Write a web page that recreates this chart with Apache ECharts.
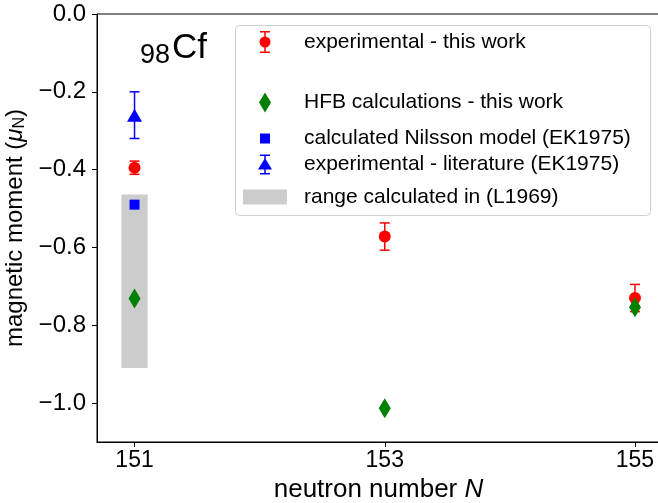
<!DOCTYPE html>
<html>
<head>
<meta charset="utf-8">
<script src="https://cdn.jsdelivr.net/npm/echarts@6/dist/echarts.min.js"></script>
<style>
  html, body { margin: 0; padding: 0; background: #fff; }
  #main { width: 658px; height: 503px; }
</style>
</head>
<body>
<div id="main"></div>
<script>
// data
var nExp = [151, 153, 155];
var muExp = [-0.395, -0.572, -0.730];
var errExp = [0.017, 0.035, 0.035];

var nHfb = [151, 153, 155];
var muHfb = [-0.731, -1.013, -0.754];

var nNilsson = [151];
var muNilsson = [-0.49];

var nLit = [151];
var muLit = [-0.26];
var errLit = [0.06];

var nRange = [151];
var rangeTop = [-0.464];
var rangeBottom = [-0.91];

var xTicks = [151, 153, 155];
var yTicks = [0, -0.2, -0.4, -0.6, -0.8, -1.0];

var FONT = '"Liberation Sans", Arial, sans-serif';

function zip(xs, ys) {
    return xs.map(function (x, i) { return [x, ys[i]]; });
}
function zipErr(xs, ys, es) {
    return xs.map(function (x, i) { return [x, ys[i] - es[i], ys[i] + es[i]]; });
}

// error bar: vertical line with caps
function renderErrorBar(capHalf) {
    return function (params, api) {
        var x = api.value(0);
        var lo = api.coord([x, api.value(1)]);
        var hi = api.coord([x, api.value(2)]);
        var style = { stroke: api.visual('color'), lineWidth: 1.5 };
        return {
            type: 'group',
            children: [
                { type: 'line', shape: { x1: lo[0], y1: lo[1], x2: hi[0], y2: hi[1] }, style: style },
                { type: 'line', shape: { x1: lo[0] - capHalf, y1: lo[1], x2: lo[0] + capHalf, y2: lo[1] }, style: style },
                { type: 'line', shape: { x1: hi[0] - capHalf, y1: hi[1], x2: hi[0] + capHalf, y2: hi[1] }, style: style }
            ]
        };
    };
}

function renderRange(params, api) {
    var x = api.value(0);
    var p1 = api.coord([x - 0.105, api.value(1)]);
    var p2 = api.coord([x + 0.105, api.value(2)]);
    return {
        type: 'rect',
        shape: { x: p1[0], y: p1[1], width: p2[0] - p1[0], height: p2[1] - p1[1] },
        style: { fill: '#cccccc' }
    };
}

var NAME_EXP = 'experimental - this work';
var NAME_HFB = 'HFB calculations - this work';
var NAME_NIL = 'calculated Nilsson model (EK1975)';
var NAME_LIT = 'experimental - literature (EK1975)';
var NAME_RANGE = 'range calculated in (L1969)';

var diamond = 'path://M6 0L12 10L6 20L0 10Z';
var iconExp = 'path://M0 0H10V1.5H0Z M0 20.5H10V22H0Z M4.25 0H5.75V22H4.25Z M-0.5 11A5.5 5.5 0 1 1 10.5 11A5.5 5.5 0 1 1 -0.5 11Z';
var iconLit = 'path://M0 0H10V1.5H0Z M0 18.5H10V20H0Z M4.25 0H5.75V20H4.25Z M-2 15L5 3.5L12 15Z';

function legendItem(name, icon, w, h, centerY) {
    return {
        data: [{ name: name, icon: icon }],
        left: 265 - w / 2,
        top: centerY - h / 2,
        padding: 0,
        itemWidth: w,
        itemHeight: h,
        selectedMode: false,
        textStyle: {
            fontFamily: FONT, fontSize: 21, color: '#000',
            lineHeight: h,
            padding: [0, 0, 0, 304 - (265 + w / 2) - 5]
        }
    };
}

var chart = echarts.init(document.getElementById('main'));
chart.setOption({
    animation: false,
    backgroundColor: '#fff',
    grid: {
        left: 97, top: 14, width: 563, height: 428,
        outerBoundsMode: 'none',
        containLabel: false,
        show: true, borderColor: '#000', borderWidth: 1
    },
    legend: [
        legendItem(NAME_EXP, iconExp, 11, 22, 42),
        legendItem(NAME_HFB, diamond, 12, 20, 102),
        legendItem(NAME_NIL, 'path://M0 0H10V10H0Z', 10, 10, 133),
        legendItem(NAME_LIT, iconLit, 14, 20, 164),
        legendItem(NAME_RANGE, 'path://M0 0H44V15H0Z', 44, 15, 194)
    ],
    xAxis: {
        type: 'value',
        min: 150.7,
        max: 155.2,
        splitLine: { show: false },
        axisLine: { show: true, onZero: false, lineStyle: { color: '#000', width: 1 } },
        axisTick: { show: true, customValues: xTicks, length: 5, lineStyle: { color: '#000' } },
        axisLabel: {
            customValues: xTicks, fontFamily: FONT, fontSize: 23, color: '#000', margin: 7
        },
        name: 'neutron number {i|N}',
        nameLocation: 'middle',
        nameGap: 31,
        nameTextStyle: {
            fontFamily: FONT, fontSize: 26, color: '#000',
            rich: { i: { fontFamily: FONT, fontSize: 26, fontStyle: 'italic', color: '#000' } }
        }
    },
    yAxis: {
        type: 'value',
        min: -1.1,
        max: 0,
        splitLine: { show: false },
        axisLine: { show: true, onZero: false, lineStyle: { color: '#000', width: 1 } },
        axisTick: { show: true, customValues: yTicks, length: 5, lineStyle: { color: '#000' } },
        axisLabel: {
            customValues: yTicks, fontFamily: FONT, fontSize: 24, color: '#000', margin: 11,
            formatter: function (v) { return v.toFixed(1).replace('-', '\u2212'); }
        },
        name: 'magnetic moment ({i|\u03bc}{s|N})',
        nameLocation: 'middle',
        nameRotate: 90,
        nameGap: 60,
        nameTextStyle: {
            fontFamily: FONT, fontSize: 24, color: '#000',
            rich: {
                i: { fontFamily: FONT, fontSize: 24, fontStyle: 'italic', color: '#000' },
                s: { fontFamily: FONT, fontSize: 16, color: '#000', verticalAlign: 'bottom', padding: [8, 0, 0, 0] }
            }
        }
    },
    graphic: [
        {
            type: 'rect', left: 235, top: 25, z: 0,
            shape: { width: 415, height: 190, r: 4 },
            style: { fill: 'rgba(255,255,255,0.8)', stroke: '#d0d0d0', lineWidth: 1 }
        },
        {
            type: 'text', left: 140, top: 31,
            style: {
                text: '{s|98}{b|Cf}',
                rich: {
                    s: { fontFamily: FONT, fontSize: 27, color: '#000', verticalAlign: 'bottom', padding: [14, 2, 0, 0] },
                    b: { fontFamily: FONT, fontSize: 35, color: '#000' }
                }
            }
        }
    ],
    series: [
        {
            name: NAME_RANGE, type: 'custom', z: 1,
            itemStyle: { color: '#cccccc' },
            renderItem: renderRange,
            data: nRange.map(function (x, i) { return [x, rangeTop[i], rangeBottom[i]]; })
        },
        {
            name: 'exp-err', type: 'custom', z: 2,
            itemStyle: { color: '#ff0000' },
            renderItem: renderErrorBar(5),
            data: zipErr(nExp, muExp, errExp)
        },
        {
            name: NAME_EXP, type: 'scatter', z: 3,
            symbol: 'circle', symbolSize: 12,
            itemStyle: { color: '#ff0000', opacity: 1 },
            data: zip(nExp, muExp)
        },
        {
            name: NAME_HFB, type: 'scatter', z: 4,
            symbol: diamond, symbolSize: [12, 20],
            itemStyle: { color: '#008000', opacity: 1 },
            data: zip(nHfb, muHfb)
        },
        {
            name: NAME_NIL, type: 'scatter', z: 4,
            symbol: 'rect', symbolSize: 10,
            itemStyle: { color: '#0000ff', opacity: 1 },
            data: zip(nNilsson, muNilsson)
        },
        {
            name: 'lit-err', type: 'custom', z: 4,
            itemStyle: { color: '#0000ff' },
            renderItem: renderErrorBar(5),
            data: zipErr(nLit, muLit, errLit)
        },
        {
            name: NAME_LIT, type: 'scatter', z: 5,
            symbol: 'triangle', symbolSize: [15, 13],
            itemStyle: { color: '#0000ff', opacity: 1 },
            data: zip(nLit, muLit)
        }
    ]
});
</script>
</body>
</html>
